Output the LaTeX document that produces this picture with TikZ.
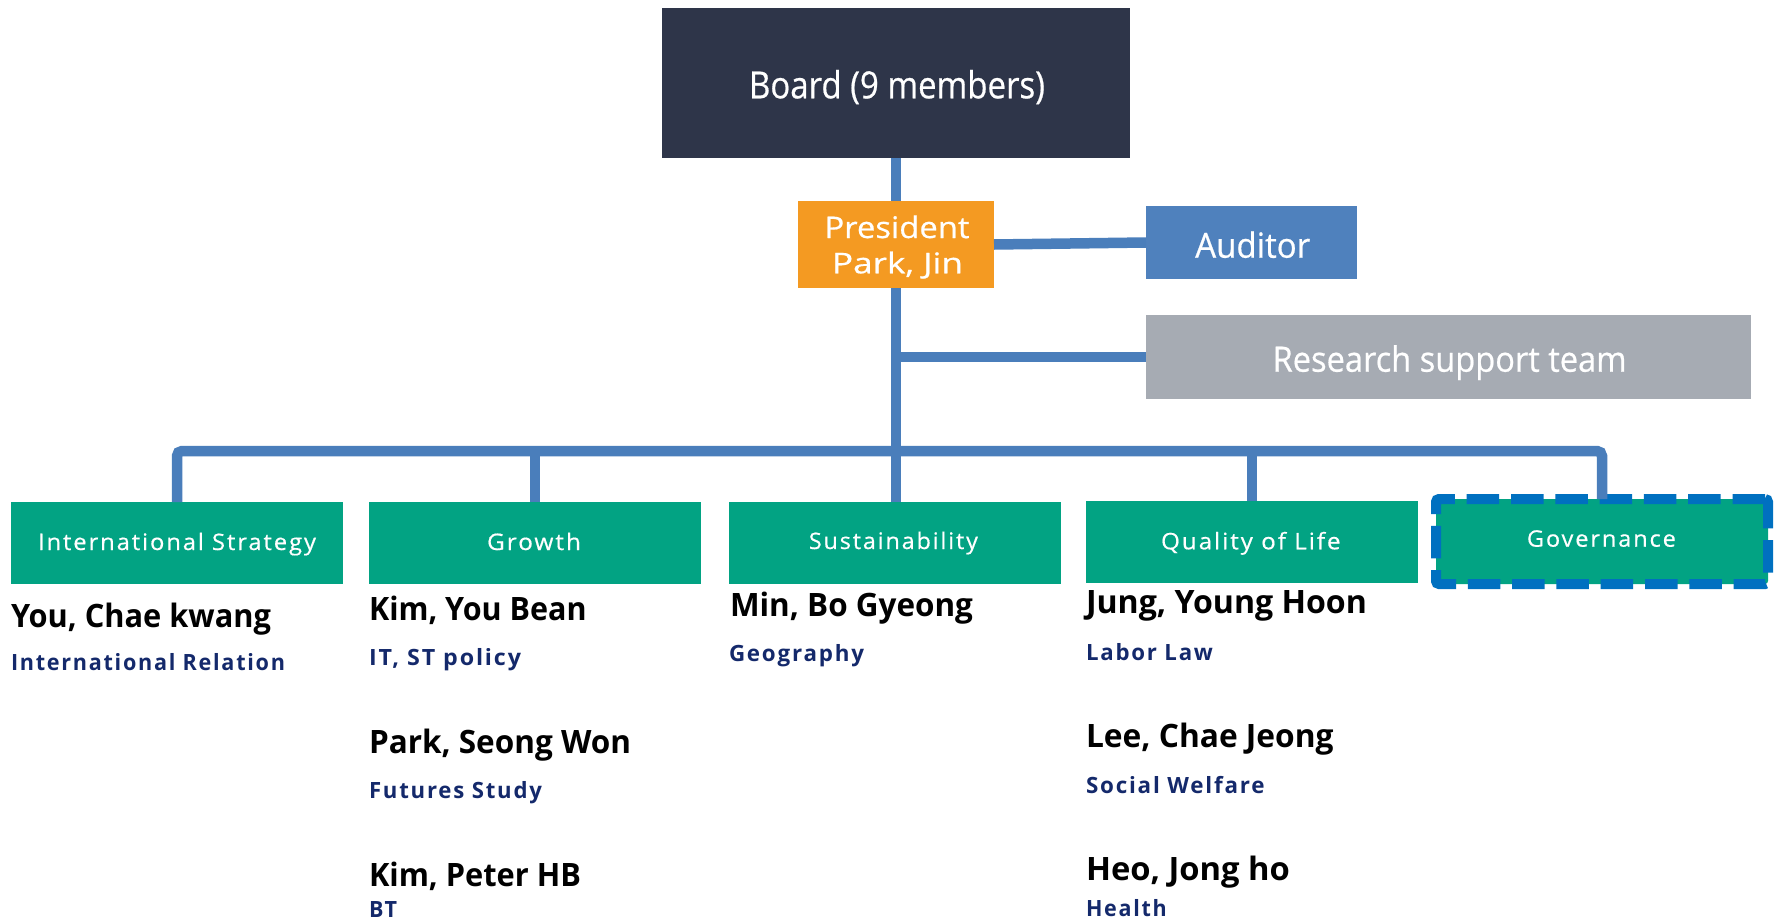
\documentclass[tikz,border=0pt]{standalone}
\usepackage{fontspec}
\usepackage{graphicx}
\setmainfont{Open Sans}
\newfontfamily\spaced{Open Sans}[LetterSpace=8]
\newfontfamily\spacedlbl{Open Sans}[LetterSpace=8,FakeBold=0.5]
\newfontfamily\lblfont{Open Sans}[FakeBold=0.6]
\definecolor{boardcol}{HTML}{2E3549}
\definecolor{prescol}{HTML}{F49A22}
\definecolor{audcol}{HTML}{4F81BD}
\definecolor{rescol}{HTML}{A6ABB3}
\definecolor{greencol}{HTML}{02A383}
\definecolor{linecol}{HTML}{4A7EBB}
\definecolor{dashcol}{HTML}{0070C0}
\definecolor{subcol}{HTML}{14296B}
\newcommand\fitw[2]{\resizebox{#1pt}{\height}{#2}}
\newcommand\fsz[1]{\fontsize{#1}{#1}\selectfont}
\begin{document}
\begin{tikzpicture}[x=1pt,y=-1pt,
  panel/.style n args={3}{rectangle, fill=#1, minimum width=#2pt, minimum height=#3pt, inner sep=0pt, outer sep=0pt},
  conn/.style={draw=linecol, line width=10.5pt},
  lbl/.style={anchor=base, inner sep=0pt, outer sep=0pt, text=white},
  glbl/.style={anchor=base, inner sep=0pt, outer sep=0pt, text=white, font=\spacedlbl\fsz{22.8}},
  pname/.style={anchor=base west, inner sep=0pt, outer sep=0pt, text=black, font=\bfseries\fsz{32.2}},
  psub/.style={anchor=base west, inner sep=0pt, outer sep=0pt, text=subcol, font=\spaced\bfseries\fsz{22.4}}
]
\useasboundingbox (0,0) rectangle (1781,921);

% boxes
\node[panel={boardcol}{468}{150}] (board) at (896,83) {};
\node[panel={prescol}{196}{87}] (pres) at (896,244.5) {};
\node[panel={audcol}{211}{73}] (aud) at (1251.5,242.5) {};
\node[panel={rescol}{605}{84}] (res) at (1448.5,357) {};
\node[panel={greencol}{332}{82}] (intl) at (177,543) {};
\node[panel={greencol}{332}{82}] (growth) at (535,543) {};
\node[panel={greencol}{332}{82}] (sust) at (895,543) {};
\node[panel={greencol}{332}{82}] (qol) at (1252,542) {};
\node[panel={greencol}{332}{85}, draw=dashcol, line width=10pt, dash pattern=on 32.5pt off 11.8pt, rounded corners=3pt] (gov) at (1602,541.5) {};

% connectors
\draw[conn] (board.south) -- (pres.north);
\draw[conn] (pres.east) -- (aud.west);
\coordinate (resj) at (pres.south |- res.west);
\draw[conn] (resj) -- (res.west);
\draw[conn] (pres.south) -- (pres.south |- sust.north);
\coordinate (busy) at (0,451);
\draw[conn, rounded corners=5pt] (intl.north) |- (gov.north |- busy) -- (gov.north);
\draw[conn] (growth.north |- busy) -- (growth.north);
\draw[conn] (qol.north |- busy) -- (qol.north);

% box labels
\node[lbl, font=\lblfont\fsz{37.4}] (boardt) at (897,98.3) {\fitw{296}{Board (9 members)}};
\node[lbl, font=\lblfont\fsz{29.8}] (prest1) at (897,238) {\fitw{145}{President}};
\node[lbl, font=\lblfont\fsz{28.6}] (prest2) at (897.5,273.3) {\fitw{131}{Park, Jin}};
\node[lbl, font=\lblfont\fsz{34.6}] (audt) at (1252.7,257.7) {\fitw{115}{Auditor}};
\node[lbl, font=\lblfont\fsz{35}] (rest) at (1449.6,371.7) {\fitw{354}{Research support team}};
\node[glbl] (intlt) at (177,550) {\fitw{278}{International Strategy}};
\node[glbl] (growtht) at (534,550) {\fitw{94}{Growth}};
\node[glbl] (sustt) at (893.4,549) {\fitw{169}{Sustainability}};
\node[glbl] (qolt) at (1250.8,549.3) {\fitw{179.5}{Quality of Life}};
\node[glbl] (govt) at (1601.4,546.7) {\fitw{149}{Governance}};

% people
\node[pname] (n1) at (11,627) {\fitw{260}{You, Chae kwang}};
\node[psub] (s1) at (11,670.7) {\fitw{274}{International Relation}};

\node[pname] (n2) at (369,620) {\fitw{217.6}{Kim, You Bean}};
\node[psub] (s2) at (369,665) {\fitw{152}{IT, ST policy}};
\node[pname] (n3) at (369,753) {\fitw{262}{Park, Seong Won}};
\node[psub] (s3) at (369,798) {\fitw{173}{Futures Study}};
\node[pname] (n4) at (369,886) {\fitw{212}{Kim, Peter HB}};
\node[psub] (s4) at (369,917.5) {\fitw{28}{BT}};

\node[pname] (n5) at (730,616.7) {\fitw{243}{Min, Bo Gyeong}};
\node[psub] (s5) at (729,661.7) {\fitw{135}{Geography}};

\node[pname] (n6) at (1086,613) {\fitw{281}{Jung, Young Hoon}};
\node[psub] (s6) at (1086,660) {\fitw{127}{Labor Law}};
\node[pname] (n7) at (1086,747) {\fitw{247.6}{Lee, Chae Jeong}};
\node[psub] (s7) at (1086,793) {\fitw{178.6}{Social Welfare}};
\node[pname] (n8) at (1086,880) {\fitw{204}{Heo, Jong ho}};
\node[psub] (s8) at (1086,916) {\fitw{80.7}{Health}};
\end{tikzpicture}
\end{document}
